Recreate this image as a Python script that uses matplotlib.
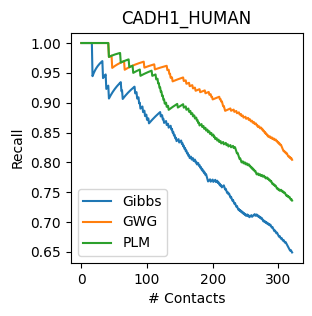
import numpy as np
import matplotlib
matplotlib.use("Agg")
import matplotlib.pyplot as plt

# number of predicted contacts shown on the x axis
n_contacts = 322

# positions (in the ranked contact list) of the wrong predictions
gibbs_misses = [17, 33, 38, 42, 61, 63,
                82, 85, 88, 90, 94, 97, 100, 103,
                121, 124, 126, 130, 133, 137, 139, 141, 143, 145,
                149, 153, 155, 157, 159, 161, 163, 165, 168, 171, 174, 176,
                179, 181, 183, 185, 187, 189, 191, 192, 193, 197, 201, 205,
                208, 210, 212, 214, 218, 219, 221, 222, 224, 226,
                227, 229, 230, 232, 233, 235, 236, 238, 239,
                241, 243, 245, 247, 249, 251, 254, 256, 260, 265,
                268, 270, 272, 274, 276, 277, 279, 281, 283, 285, 287, 289, 290, 292,
                293, 294, 296, 297, 299, 300, 301, 303,
                304, 306, 307, 309, 310, 312, 313,
                314, 315, 316, 317, 318, 320, 321]
gwg_misses = [42, 47, 66, 96, 112, 131, 134, 136, 139, 156,
              160, 165, 170, 174, 181, 189, 195, 198, 200,
              211, 213, 215, 216, 218, 219, 228,
              233, 237, 241, 244, 247, 251, 255, 258, 261,
              264, 267, 269, 272, 275, 277, 279, 281, 283, 285,
              288, 291, 294, 297, 299, 301, 303, 305, 306, 307, 308, 310,
              312, 314, 315, 317, 319, 321]
plm_misses = [42, 60, 73, 79, 90, 108, 114, 117,
              119, 121, 123, 125, 127, 130, 133, 147,
              156, 160, 164, 167, 170, 173, 176, 178, 180,
              184, 187, 190, 193, 196, 199, 202, 204, 207, 210, 213,
              217, 221, 224, 228, 232,
              235, 236, 237, 239, 240, 241, 243, 244, 247, 250, 253,
              256, 258, 260, 262, 264, 266, 267, 270, 273, 276,
              279, 281, 284, 286, 288, 290, 291, 293, 295, 297, 298, 300,
              302, 305, 307, 309, 311, 312, 314, 316, 318, 319, 321]

labels = ['Gibbs', 'GWG', 'PLM']
misses = [gibbs_misses, gwg_misses, plm_misses]

x = np.arange(n_contacts)

fig = plt.figure(figsize=(3.12, 3.16), dpi=100)
ax = fig.add_subplot(111)
for label, miss in zip(labels, misses):
    correct = np.ones(n_contacts)
    correct[miss] = 0
    recall = np.cumsum(correct) / (x + 1)
    ax.plot(x, recall, label=label)

ax.set_title('CADH1_HUMAN')
ax.set_xlabel('# Contacts')
ax.set_ylabel('Recall')
ax.set_xticks([0, 100, 200, 300])
ax.legend(loc='lower left')
fig.subplots_adjust(left=0.227, right=0.970, bottom=0.168, top=0.897)
fig.savefig('out.png', dpi=100)
